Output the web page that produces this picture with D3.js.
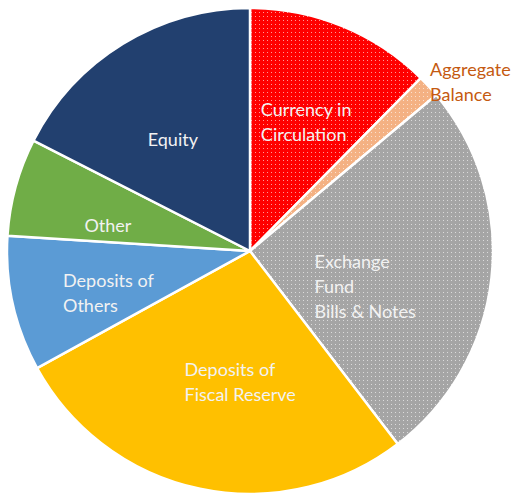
<!DOCTYPE html>
<html>
<head>
<meta charset="utf-8">
<script src="https://cdn.jsdelivr.net/npm/d3@7"></script>
<style>
  html, body { margin: 0; padding: 0; background: #fff; }
  svg { display: block; }
  .slice-label { font-family: Lato, "Open Sans", sans-serif; font-size: 18px; }
</style>
</head>
<body>
<svg id="chart" width="514" height="496"></svg>
<script>
// Porcentajes (ángulos de cada corte)
const categories = [
  'Currency in Circulation',
  'Aggregate Balance',
  'Exchange Fund Bills & Notes',
  'Deposits of Fiscal Reserve',
  'Deposits of Others',
  'Other',
  'Equity'
];
const values = [12.4, 1.5, 25.7, 27.4, 9.0, 6.5, 17.5];
const labelLines = [
  ['Currency in', 'Circulation'],
  ['Aggregate', 'Balance'],
  ['Exchange', 'Fund', 'Bills & Notes'],
  ['Deposits of', 'Fiscal Reserve'],
  ['Deposits of', 'Others'],
  ['Other'],
  ['Equity']
];

const colors = ['#FF0000', '#F4B183', '#A5A5A5', '#FFC000', '#5B9BD5', '#70AD47', '#22406F'];
const dotted = [true, true, true, false, false, false, false];
// pequeños ajustes de la etiqueta respecto al centroide
const nudges = [[3, 1], [0, 0], [-24, 21], [19, -6], [-5, 12], [-7, 12], [-4, 8]];

const width = 514, height = 496;
const cx = 250, cy = 251, R = 243;

const svg = d3.select('#chart');
const defs = svg.append('defs');

colors.forEach((c, i) => {
  if (!dotted[i]) return;
  const p = defs.append('pattern')
    .attr('id', `dots${i}`)
    .attr('patternUnits', 'userSpaceOnUse')
    .attr('width', 4).attr('height', 4);
  p.append('rect').attr('width', 4).attr('height', 4).attr('fill', c);
  p.append('rect').attr('x', 1).attr('y', 1).attr('width', 1).attr('height', 1).attr('fill', '#fff').attr('opacity', 0.6);
});

const data = categories.map((name, i) => ({ name, value: values[i], i }));
const pie = d3.pie().value((d) => d.value).sort(null);
const arcs = pie(data);

const arc = d3.arc().innerRadius(0).outerRadius(R);
const labelArc = d3.arc().innerRadius(140).outerRadius(140);
const outerArc = d3.arc().innerRadius(R + 6).outerRadius(R + 6);

const g = svg.append('g').attr('transform', `translate(${cx},${cy})`);

g.selectAll('path')
  .data(arcs)
  .join('path')
  .attr('d', arc)
  .attr('fill', (d) => (dotted[d.data.i] ? `url(#dots${d.data.i})` : colors[d.data.i]))
  .attr('stroke', '#fff')
  .attr('stroke-width', 2.5)
  .attr('stroke-linejoin', 'round');

const lineH = 25;

arcs.forEach((d) => {
  const i = d.data.i;
  const lines = labelLines[i];
  const outside = d.endAngle - d.startAngle < 0.2;
  const t = g.append('text')
    .attr('class', 'slice-label')
    .attr('fill', outside ? '#C55A11' : '#F2F2F2');
  lines.forEach((l, k) => {
    t.append('tspan').attr('x', 0).attr('dy', k === 0 ? 0 : lineH).text(l);
  });
  const blockW = d3.max(t.selectAll('tspan').nodes(), (n) => n.getComputedTextLength());
  const blockH = (lines.length - 1) * lineH;
  let x0, y0;
  if (outside) {
    const [ox, oy] = outerArc.centroid(d);
    x0 = ox - 3;
    y0 = oy - 6;
  } else {
    const [lx, ly] = labelArc.centroid(d);
    x0 = lx + nudges[i][0] - blockW / 2;
    y0 = ly + nudges[i][1] - blockH / 2 + 6;
  }
  t.attr('transform', `translate(${x0},${y0})`);
});
</script>
</body>
</html>
